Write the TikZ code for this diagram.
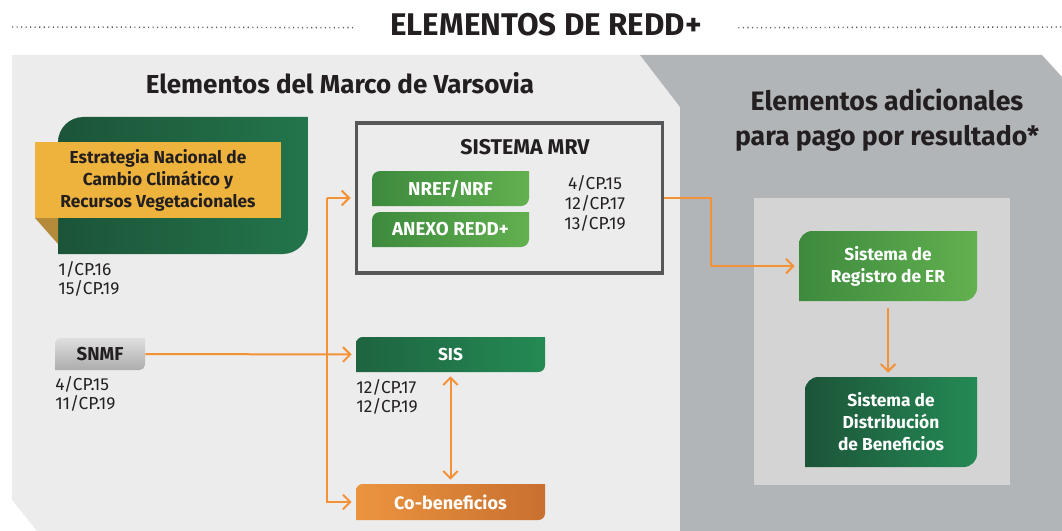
\documentclass[tikz,border=0pt]{standalone}
\usepackage{fontspec}
\setmainfont{Fira Sans}
\usetikzlibrary{arrows.meta,positioning}
\definecolor{txt}{HTML}{231F20}
\definecolor{panelL}{HTML}{ECECEC}
\definecolor{panelR}{HTML}{B2B5B7}
\definecolor{panelI}{HTML}{D4D4D4}
\definecolor{flow}{HTML}{F39237}
\definecolor{darkA}{HTML}{1C5439}
\definecolor{darkB}{HTML}{23754B}
\definecolor{lightA}{HTML}{3D8A3E}
\definecolor{lightB}{HTML}{62B04F}
\definecolor{sisA}{HTML}{1E6440}
\definecolor{sisB}{HTML}{248A54}
\definecolor{yell}{HTML}{EEB33D}
\definecolor{flap}{HTML}{B38B3A}
\definecolor{cobA}{HTML}{EB943F}
\definecolor{cobB}{HTML}{C8702F}
\definecolor{mrvline}{HTML}{555759}

\begin{document}
\begin{tikzpicture}[x=0.75pt,y=-0.75pt,
    leaf/.style 2 args={inner sep=0pt, text=white, align=center,
      path picture={\shade[#1] (path picture bounding box.south west)
        [rounded corners=#2] -- (path picture bounding box.north west)
        [sharp corners] -- (path picture bounding box.north east)
        [rounded corners=#2] -- (path picture bounding box.south east)
        [sharp corners] -- cycle;}},
    boxtxt/.style={font=\fontsize{13}{16.5}\selectfont\bfseries},
    ref/.style={font=\fontsize{13}{14.8}\selectfont, text=txt, align=left, inner sep=0pt},
    heading/.style={font=\fontsize{19.5}{26}\selectfont\bfseries, text=txt, align=center},
    arr/.style={draw=flow, line width=1.5pt, -{Straight Barb[length=5.5pt,width=11pt]}, shorten >=3pt},
    dots/.style={draw=mrvline, line width=1.1pt, dash pattern=on 0.8pt off 2.6pt}]
  \useasboundingbox (0,0) rectangle (1062,531);

  % panels
  \fill[panelL] (12,55) -- (640,55) -- (680,107) -- (680,531) -- (37,531) -- (12,500) -- cycle;
  \fill[panelR] (640,55) -- (1042,55) -- (1062,77) -- (1062,531) -- (680,531) -- (680,107) -- cycle;
  \fill[panelI] (754,198) rectangle (1010,485);

  % titles
  \node[font=\fontsize{23.5}{27}\selectfont\bfseries, text=txt] (title) at (546,25) {ELEMENTOS DE REDD+};
  \draw[dots] (12,27) -- ([xshift=-24pt,yshift=-2pt]title.west);
  \draw[dots] ([xshift=24pt,yshift=-2pt]title.east) -- (1062,27);
  \node[heading] (marco) at (340,83) {Elementos del Marco de Varsovia};
  \node[heading, font=\fontsize{20}{26}\selectfont\bfseries] (adic) at (887,120) {Elementos adicionales\\para pago por resultado*};

  % estrategia
  \node[leaf={left color=darkA,right color=darkB}{19pt}, minimum width=187.5pt, minimum height=102.75pt] (estr) at (183,185.5) {};
  \fill[flap] (35,218) -- (58,218) -- (58,244) -- cycle;
  \node[boxtxt, fill=yell, text=txt, align=center, minimum width=184.5pt, minimum height=57pt] (enccr) at (158,180)
    {Estrategia Nacional de\\Cambio Climático y\\Recursos Vegetacionales};
  \node[ref, anchor=north west] (estrref) at (58,261) {1/CP.16\\15/CP.19};

  % sistema MRV
  \node[draw=mrvline, line width=2.4pt, minimum width=230pt, minimum height=112.5pt] (mrv) at (509.5,198) {};
  \node[font=\fontsize{16}{18}\selectfont\bfseries, text=txt] (mrvtit) at (525,147) {SISTEMA MRV};
  \node[leaf={left color=lightA,right color=lightB}{6pt}, boxtxt, font=\fontsize{14}{16}\selectfont\bfseries, minimum width=117.75pt, minimum height=26.25pt] (nref) at (450.5,188.5) {NREF/NRF};
  \node[leaf={left color=lightA,right color=lightB}{6pt}, boxtxt, font=\fontsize{14}{16}\selectfont\bfseries, minimum width=117.75pt, minimum height=26.25pt] (anexo) at (450.5,229.5) {ANEXO REDD+};
  \node[ref, align=center, font=\fontsize{13}{15}\selectfont] (mrvref) at (595,203) {4/CP.15\\12/CP.17\\13/CP.19};

  % SNMF, SIS, co-beneficios
  \node[leaf={top color=gray!25,bottom color=gray!65}{4pt}, boxtxt, font=\fontsize{14}{16}\selectfont\bfseries, text=txt, minimum width=67.5pt, minimum height=24pt] (snmf) at (100,354) {SNMF};
  \node[ref, anchor=north west] (snmfref) at (55,376) {4/CP.15\\11/CP.19};
  \node[leaf={left color=sisA,right color=sisB}{5pt}, boxtxt, minimum width=141.75pt, minimum height=26.25pt] (sis) at (450.5,354.5) {SIS};
  \node[ref, anchor=north west] (sisref) at (356,379) {12/CP.17\\12/CP.19};
  \node[leaf={left color=cobA,right color=cobB}{5pt}, boxtxt, font=\fontsize{13.5}{16}\selectfont\bfseries, minimum width=141.75pt, minimum height=27pt] (cob) at (450.5,502) {Co-beneficios};

  % pago por resultado
  \node[leaf={left color=lightA,right color=lightB}{10pt}, boxtxt, font=\fontsize{13}{16.5}\selectfont\bfseries, minimum width=133.5pt, minimum height=52.5pt] (reg) at (888,266) {Sistema de\\Registro de ER};
  \node[leaf={left color=darkA,right color=sisB}{10pt}, boxtxt, font=\fontsize{13}{16.5}\selectfont\bfseries, minimum width=129pt, minimum height=67.5pt] (dist) at (891,422) {Sistema de\\Distribución\\de Beneficios};

  % connectors
  \coordinate (split) at (327,198);
  \draw[arr] (split) -- (mrv.west);
  \draw[arr] (split) |- (cob.west);
  \draw[arr] (snmf.east) -- (sis.west);
  \draw[arr, {Straight Barb[length=5.5pt,width=11pt]}-{Straight Barb[length=5.5pt,width=11pt]}, shorten <=3pt] (sis.south) -- (cob.north);
  \draw[arr] (mrv.east) -- ++(47,0) |- (reg.west);
  \draw[arr, shorten <=5pt] (reg.south) -- (reg.south |- dist.north);
\end{tikzpicture}
\end{document}
